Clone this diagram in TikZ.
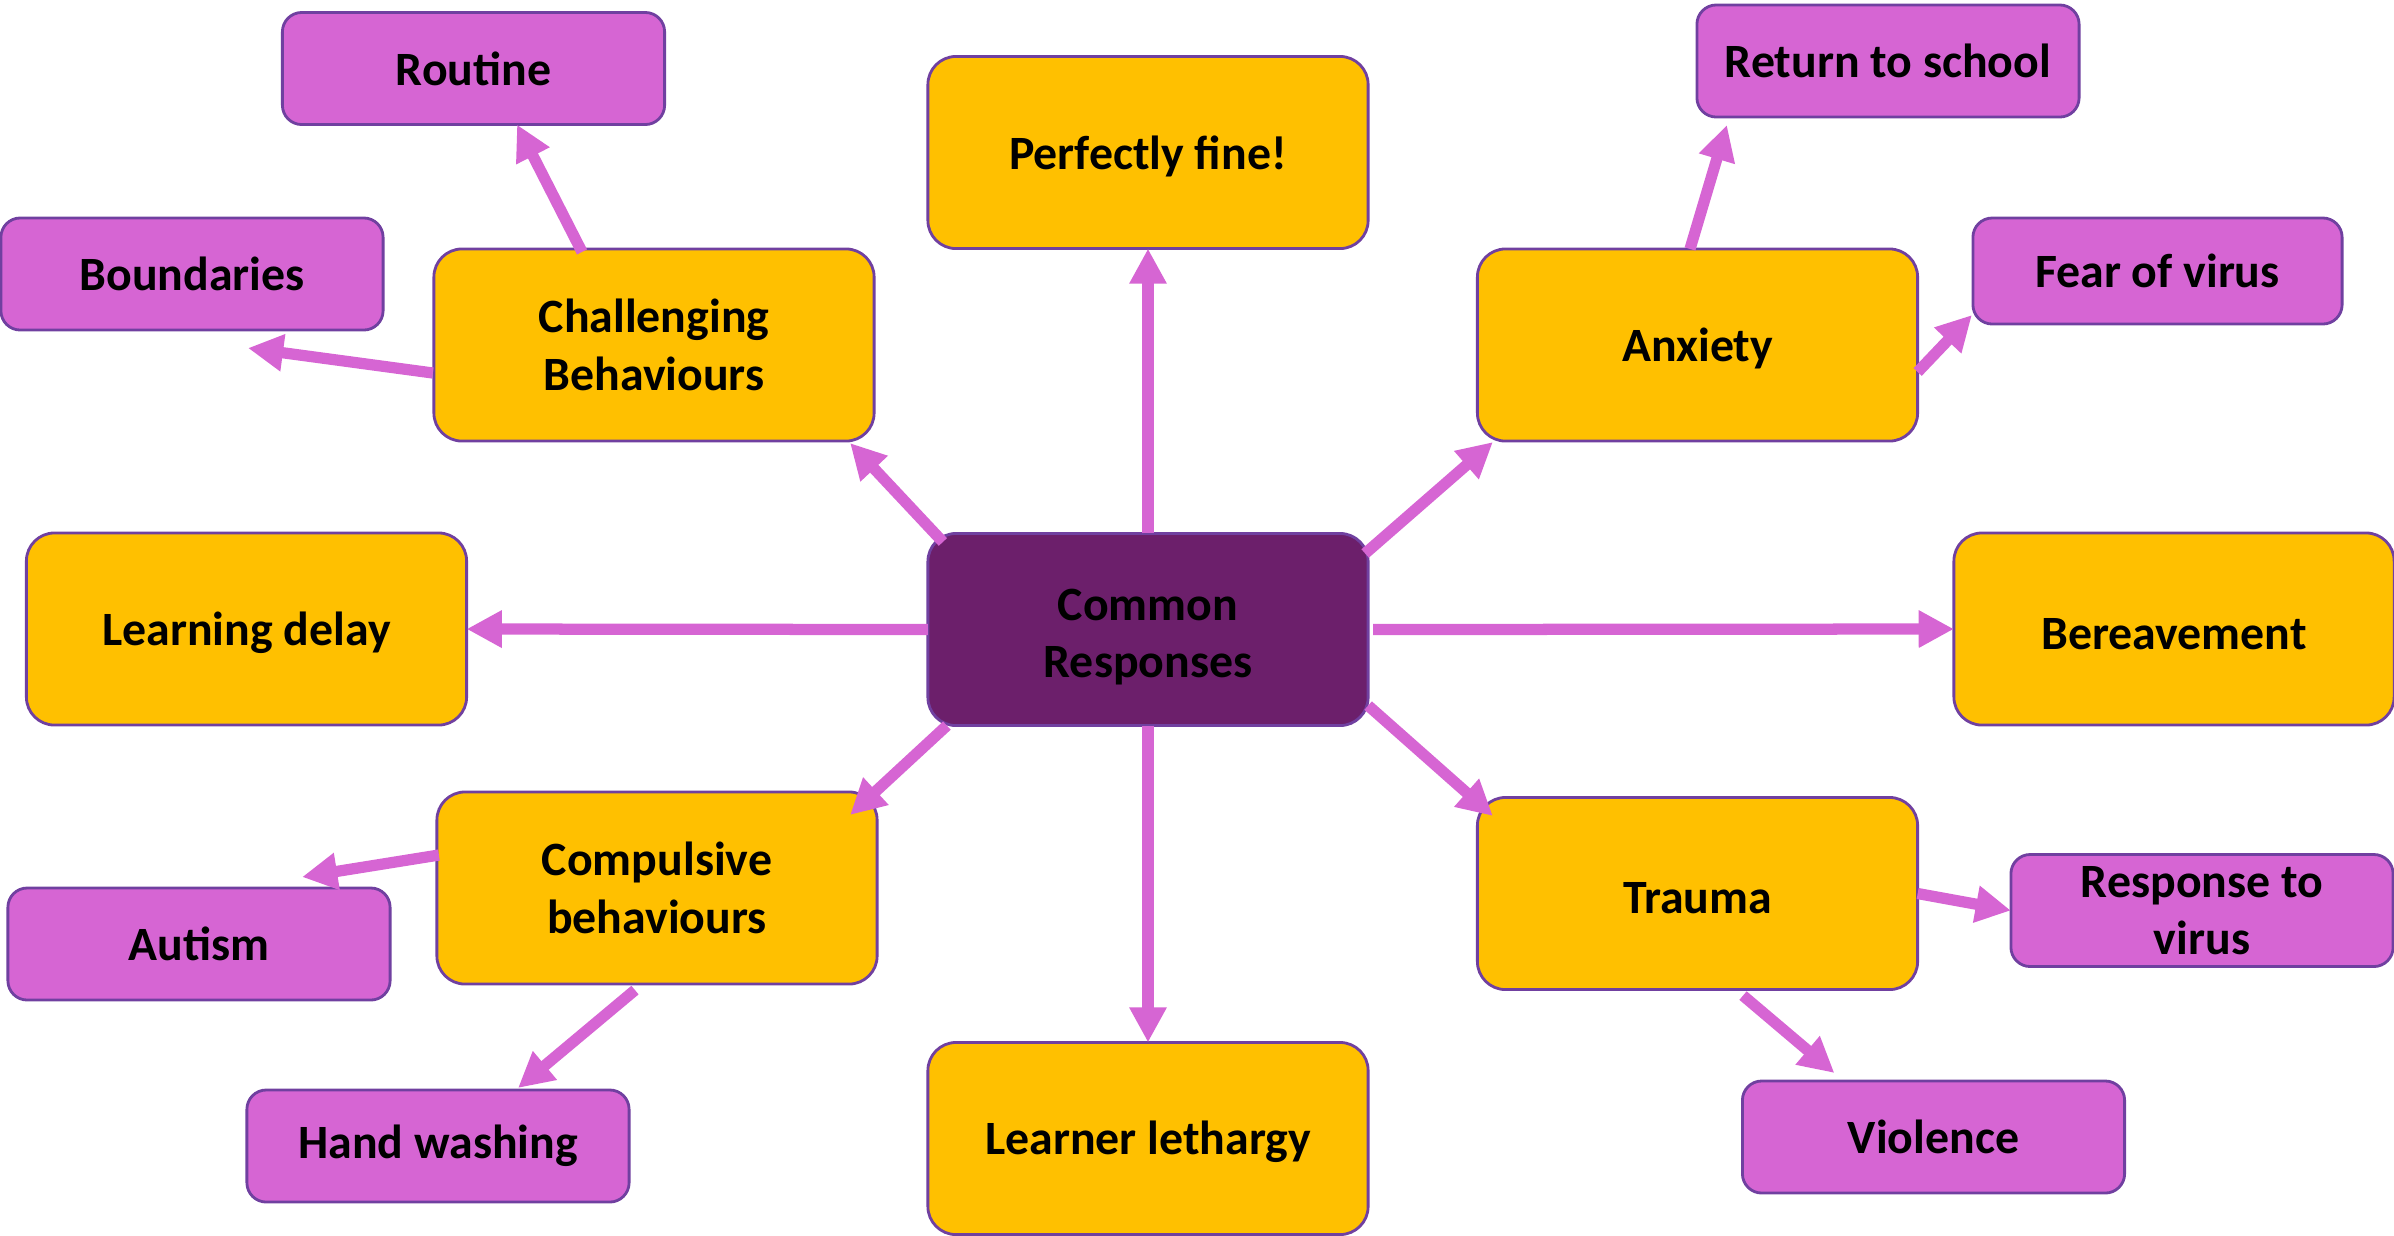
\documentclass[tikz,border=0pt]{standalone}
\usepackage{fontspec}
\setmainfont{Carlito}
\usetikzlibrary{arrows.meta}
\definecolor{gold}{HTML}{FFC000}
\definecolor{orchid}{HTML}{D665D3}
\definecolor{plum}{HTML}{6C1F6B}
\definecolor{rim}{HTML}{7040A0}

\begin{document}
\begin{tikzpicture}[x=0.01cm,y=-0.01cm,
    box/.style={draw=rim,line width=0.8pt,align=center,outer sep=0pt,inner sep=2pt,
      font=\fontsize{13.6}{16.4}\selectfont\bfseries},
    topic/.style={box,fill=gold,rounded corners=8pt,minimum width=4.4cm,minimum height=1.92cm,
      execute at begin node={\rule{0pt}{11.6pt}}},
    sub/.style={box,fill=orchid,rounded corners=5.5pt,minimum width=3.82cm,minimum height=1.12cm},
    hub/.style={topic,fill=plum},
    arr/.style={draw=orchid,line width=3.2pt,-{Triangle[length=10pt,width=10pt]}}]
    \useasboundingbox (0,0) rectangle (2394,1235);
    \node[hub] (cr) at (1148,629.5) {\rule{0pt}{13.2pt}Common\\Responses};
    \node[topic] (pf) at (1148,152.5) {Perfectly fine!};
    \node[topic] (ll) at (1148,1138.5) {Learner lethargy};
    \node[topic] (chal) at (654,345) {Challenging\\Behaviours};
    \node[topic] (anx) at (1697.5,345) {Anxiety};
    \node[topic] (ld) at (246.5,629) {Learning delay};
    \node[topic] (bv) at (2174,629) {Bereavement};
    \node[topic] (comp) at (657,888) {Compulsive\\behaviours};
    \node[topic] (tra) at (1697.5,893.5) {Trauma};
    \node[sub] (rout) at (473.5,68.5) {Routine};
    \node[sub] (bnd) at (192,274) {Boundaries};
    \node[sub] (ret) at (1888,61) {Return to school};
    \node[sub,minimum width=3.69cm,minimum height=1.06cm] (fear) at (2157.5,271) {Fear of virus};
    \node[sub] (aut) at (199,944) {Autism};
    \node[sub] (hw) at (438,1146) {Hand washing};
    \node[sub] (rsp) at (2202,910.5) {Response to\\virus};
    \node[sub] (vio) at (1933.5,1137) {Violence};
    % out of the centre
    \draw[arr] (cr.north) -- (pf.south);
    \draw[arr] (cr.south) -- (ll.north);
    \draw[arr] (cr.west) -- (ld.east);
    \draw[arr] ([shift={(5,0)}]cr.east) -- (bv.west);
    \draw[arr] ([shift={(15,8.5)}]cr.north west) -- ([shift={(-24,2)}]chal.south east);
    \draw[arr] ([shift={(-3,20)}]cr.north east) -- ([shift={(15.5,1)}]anx.south west);
    \draw[arr] ([shift={(19,0)}]cr.south west) -- ([shift={(-27,23)}]comp.north east);
    \draw[arr] ([shift={(0,-20)}]cr.south east) -- ([shift={(15.5,18.5)}]tra.north west);
    % second level
    \draw[arr] ([shift={(-72,3)}]chal.north) -- ([shift={(43.5,0)}]rout.south);
    \draw[arr] ([shift={(-1,28)}]chal.west) -- ([shift={(56,18)}]bnd.south);
    \draw[arr] ([shift={(-7.5,0)}]anx.north) -- ([shift={(30,8)}]ret.south west);
    \draw[arr] ([shift={(0,27)}]anx.east) -- ([shift={(-1,-9)}]fear.south west);
    \draw[arr] ([shift={(2,-33)}]comp.west) -- ([shift={(-88,-11)}]aut.north east);
    \draw[arr] ([shift={(-22,6)}]comp.south) -- ([shift={(80,-2)}]hw.north);
    \draw[arr] (tra.east) -- (rsp.west);
    \draw[arr] ([shift={(45.5,6)}]tra.south) -- ([shift={(92,-8)}]vio.north west);
\end{tikzpicture}
\end{document}
